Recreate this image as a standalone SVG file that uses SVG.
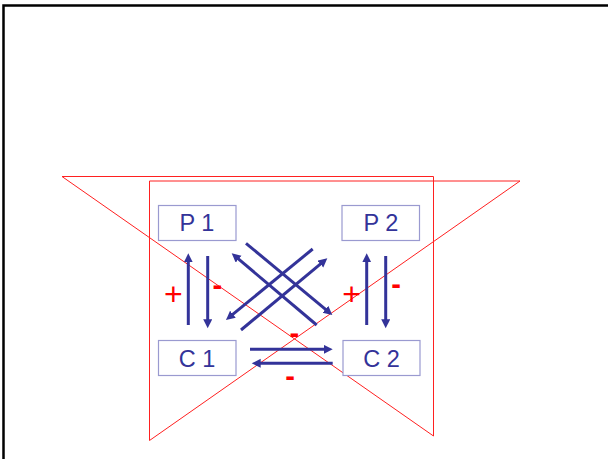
<svg xmlns="http://www.w3.org/2000/svg" width="608" height="459" viewBox="0 0 608 459">
  <style>
    .frame { fill: none; stroke: #000; stroke-width: 2.5; }
    .red { fill: none; stroke: #ff2020; stroke-width: 1; }
    .box { fill: #fff; stroke: #9a9ad0; stroke-width: 1.2; }
    .lbl { font-family: "Liberation Sans", Arial, sans-serif; font-size: 23.5px; fill: #333399; text-anchor: middle; }
    .arr { stroke: #333399; stroke-width: 3; fill: none; marker-end: url(#ah); }
    .sign { font-family: "Liberation Sans", Arial, sans-serif; font-size: 29px; font-weight: bold; fill: #ff0000; text-anchor: middle; }
    .plus { font-family: "Liberation Sans", Arial, sans-serif; font-size: 32px; fill: #ff0000; text-anchor: middle; }
  </style>
  <defs>
    <marker id="ah" markerUnits="userSpaceOnUse" markerWidth="10" markerHeight="10" refX="3" refY="4.5" orient="auto">
      <path d="M0,0 L9,4.5 L0,9 z" fill="#333399"/>
    </marker>
  </defs>
  <rect width="608" height="459" fill="#fff"/>
  <path class="frame" d="M3.5,470 V5.5 H620"/>
  <g id="overlay">
    <polygon class="red" points="62,176.5 433.5,176.5 433.5,436"/>
    <polygon class="red" points="149.5,181 520,181 149.5,440.5"/>
  </g>
  <g id="connectors">
    <line class="arr" x1="188.3" y1="325" x2="188.3" y2="259.3"/>
    <line class="arr" x1="207.7" y1="256" x2="207.7" y2="322.3"/>
    <line class="arr" x1="366.7" y1="325" x2="366.7" y2="259.3"/>
    <line class="arr" x1="385.7" y1="256" x2="385.7" y2="322.3"/>
    <line class="arr" x1="250" y1="349.3" x2="326.7" y2="349.3"/>
    <line class="arr" x1="332.7" y1="363.3" x2="257.7" y2="363.3"/>
    <line class="arr" x1="246" y1="243.3" x2="327.7" y2="311.2"/>
    <line class="arr" x1="316.7" y1="325" x2="236.3" y2="257.2"/>
    <line class="arr" x1="312.7" y1="249" x2="230.6" y2="316.2"/>
    <line class="arr" x1="241" y1="330" x2="322.7" y2="262.1"/>
  </g>
  <g id="signs">
    <text class="plus" x="173.3" y="305">+</text>
    <text class="sign" x="217.3" y="294.6">-</text>
    <text class="plus" x="351.7" y="305">+</text>
    <text class="sign" x="396" y="294.3">-</text>
    <text class="sign" x="294.3" y="343">-</text>
    <text class="sign" x="290" y="385.6">-</text>
  </g>
  <g id="P1">
    <rect class="box" x="158.5" y="205.5" width="77.5" height="35"/>
    <text class="lbl" x="197" y="231">P 1</text>
  </g>
  <g id="P2">
    <rect class="box" x="342" y="205.5" width="77.5" height="35"/>
    <text class="lbl" x="381" y="231">P 2</text>
  </g>
  <g id="C1">
    <rect class="box" x="158.5" y="340.5" width="77.5" height="35"/>
    <text class="lbl" x="197" y="366.5">C 1</text>
  </g>
  <g id="C2">
    <rect class="box" x="343" y="340.5" width="77" height="35"/>
    <text class="lbl" x="381.5" y="366.5">C 2</text>
  </g>
</svg>
